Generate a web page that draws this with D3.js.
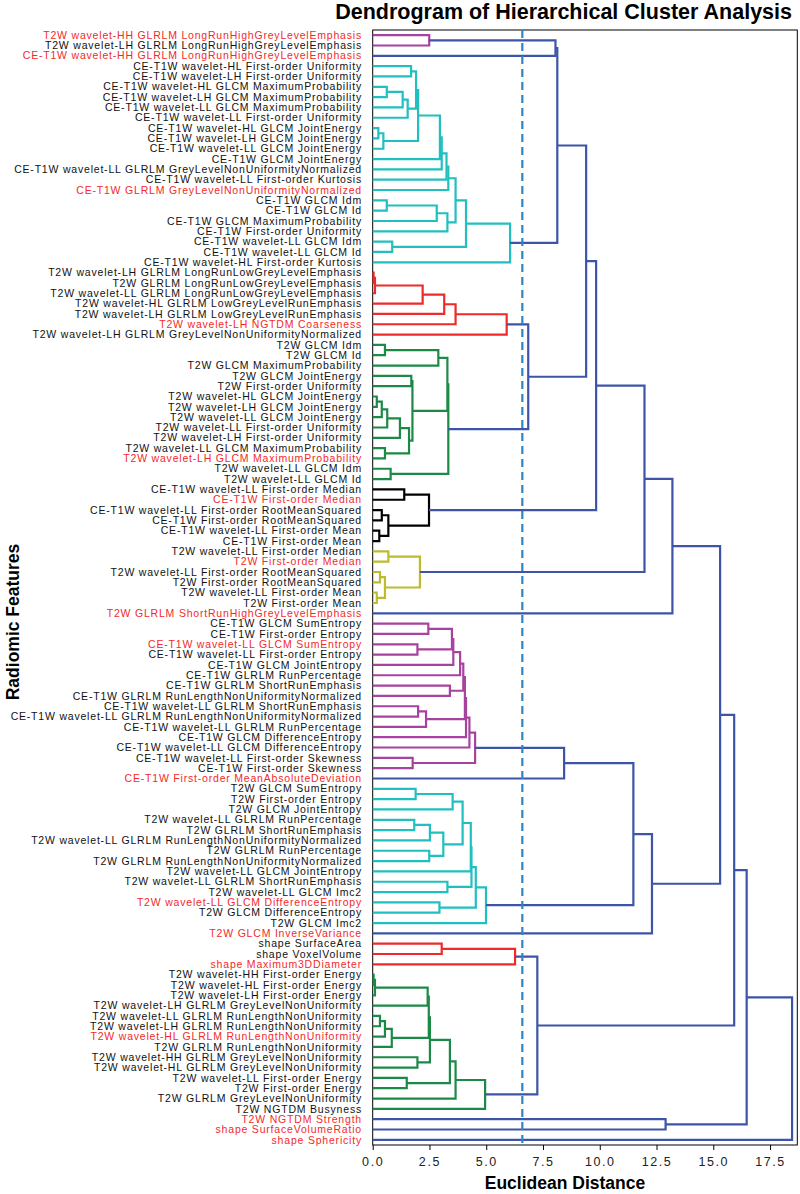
<!DOCTYPE html>
<html><head><meta charset="utf-8">
<script src="https://cdn.jsdelivr.net/npm/d3@7"></script>
<style>body{margin:0;background:#fff}svg{display:block}</style>
</head><body><svg id="chart" width="800" height="1194"></svg>
<script>
// ---------- DATA ----------
const leafLabels = [
"T2W wavelet-HH GLRLM LongRunHighGreyLevelEmphasis",
"T2W wavelet-LH GLRLM LongRunHighGreyLevelEmphasis",
"CE-T1W wavelet-HH GLRLM LongRunHighGreyLevelEmphasis",
"CE-T1W wavelet-HL First-order Uniformity",
"CE-T1W wavelet-LH First-order Uniformity",
"CE-T1W wavelet-HL GLCM MaximumProbability",
"CE-T1W wavelet-LH GLCM MaximumProbability",
"CE-T1W wavelet-LL GLCM MaximumProbability",
"CE-T1W wavelet-LL First-order Uniformity",
"CE-T1W wavelet-HL GLCM JointEnergy",
"CE-T1W wavelet-LH GLCM JointEnergy",
"CE-T1W wavelet-LL GLCM JointEnergy",
"CE-T1W GLCM JointEnergy",
"CE-T1W wavelet-LL GLRLM GreyLevelNonUniformityNormalized",
"CE-T1W wavelet-LL First-order Kurtosis",
"CE-T1W GLRLM GreyLevelNonUniformityNormalized",
"CE-T1W GLCM Idm",
"CE-T1W GLCM Id",
"CE-T1W GLCM MaximumProbability",
"CE-T1W First-order Uniformity",
"CE-T1W wavelet-LL GLCM Idm",
"CE-T1W wavelet-LL GLCM Id",
"CE-T1W wavelet-HL First-order Kurtosis",
"T2W wavelet-LH GLRLM LongRunLowGreyLevelEmphasis",
"T2W GLRLM LongRunLowGreyLevelEmphasis",
"T2W wavelet-LL GLRLM LongRunLowGreyLevelEmphasis",
"T2W wavelet-HL GLRLM LowGreyLevelRunEmphasis",
"T2W wavelet-LH GLRLM LowGreyLevelRunEmphasis",
"T2W wavelet-LH NGTDM Coarseness",
"T2W wavelet-LH GLRLM GreyLevelNonUniformityNormalized",
"T2W GLCM Idm",
"T2W GLCM Id",
"T2W GLCM MaximumProbability",
"T2W GLCM JointEnergy",
"T2W First-order Uniformity",
"T2W wavelet-HL GLCM JointEnergy",
"T2W wavelet-LH GLCM JointEnergy",
"T2W wavelet-LL GLCM JointEnergy",
"T2W wavelet-LL First-order Uniformity",
"T2W wavelet-LH First-order Uniformity",
"T2W wavelet-LL GLCM MaximumProbability",
"T2W wavelet-LH GLCM MaximumProbability",
"T2W wavelet-LL GLCM Idm",
"T2W wavelet-LL GLCM Id",
"CE-T1W wavelet-LL First-order Median",
"CE-T1W First-order Median",
"CE-T1W wavelet-LL First-order RootMeanSquared",
"CE-T1W First-order RootMeanSquared",
"CE-T1W wavelet-LL First-order Mean",
"CE-T1W First-order Mean",
"T2W wavelet-LL First-order Median",
"T2W First-order Median",
"T2W wavelet-LL First-order RootMeanSquared",
"T2W First-order RootMeanSquared",
"T2W wavelet-LL First-order Mean",
"T2W First-order Mean",
"T2W GLRLM ShortRunHighGreyLevelEmphasis",
"CE-T1W GLCM SumEntropy",
"CE-T1W First-order Entropy",
"CE-T1W wavelet-LL GLCM SumEntropy",
"CE-T1W wavelet-LL First-order Entropy",
"CE-T1W GLCM JointEntropy",
"CE-T1W GLRLM RunPercentage",
"CE-T1W GLRLM ShortRunEmphasis",
"CE-T1W GLRLM RunLengthNonUniformityNormalized",
"CE-T1W wavelet-LL GLRLM ShortRunEmphasis",
"CE-T1W wavelet-LL GLRLM RunLengthNonUniformityNormalized",
"CE-T1W wavelet-LL GLRLM RunPercentage",
"CE-T1W GLCM DifferenceEntropy",
"CE-T1W wavelet-LL GLCM DifferenceEntropy",
"CE-T1W wavelet-LL First-order Skewness",
"CE-T1W First-order Skewness",
"CE-T1W First-order MeanAbsoluteDeviation",
"T2W GLCM SumEntropy",
"T2W First-order Entropy",
"T2W GLCM JointEntropy",
"T2W wavelet-LL GLRLM RunPercentage",
"T2W GLRLM ShortRunEmphasis",
"T2W wavelet-LL GLRLM RunLengthNonUniformityNormalized",
"T2W GLRLM RunPercentage",
"T2W GLRLM RunLengthNonUniformityNormalized",
"T2W wavelet-LL GLCM JointEntropy",
"T2W wavelet-LL GLRLM ShortRunEmphasis",
"T2W wavelet-LL GLCM Imc2",
"T2W wavelet-LL GLCM DifferenceEntropy",
"T2W GLCM DifferenceEntropy",
"T2W GLCM Imc2",
"T2W GLCM InverseVariance",
"shape SurfaceArea",
"shape VoxelVolume",
"shape Maximum3DDiameter",
"T2W wavelet-HH First-order Energy",
"T2W wavelet-HL First-order Energy",
"T2W wavelet-LH First-order Energy",
"T2W wavelet-LH GLRLM GreyLevelNonUniformity",
"T2W wavelet-LL GLRLM RunLengthNonUniformity",
"T2W wavelet-LH GLRLM RunLengthNonUniformity",
"T2W wavelet-HL GLRLM RunLengthNonUniformity",
"T2W GLRLM RunLengthNonUniformity",
"T2W wavelet-HH GLRLM GreyLevelNonUniformity",
"T2W wavelet-HL GLRLM GreyLevelNonUniformity",
"T2W wavelet-LL First-order Energy",
"T2W First-order Energy",
"T2W GLRLM GreyLevelNonUniformity",
"T2W NGTDM Busyness",
"T2W NGTDM Strength",
"shape SurfaceVolumeRatio",
"shape Sphericity"
];
// leaves whose label is shown in red
const highlightedLeaves = [0,2,15,28,41,45,51,56,59,72,84,87,90,97,105,106,107];

// merges: [node name, child A, child B, Euclidean distance]; numbers = leaf index (top→bottom)
const merges = [
["a1",0,1,2.49],["a2","a1",2,8.05],
["c1",3,4,1.69],["c2",5,6,0.62],["c3","c2",7,1.32],["c4","c3",8,1.54],["c5","c1","c4",1.91],
["c6",9,10,0.25],["c7","c6",11,0.47],["c8","c5","c7",2.0],["c9","c8",12,2.96],["c10","c9",13,3.04],
["c11","c10",14,3.25],["c12","c11",15,3.33],["c13",16,17,0.62],["c14","c13",18,2.82],["c15","c14",19,3.29],
["c16","c12","c15",3.65],["c17",20,21,0.86],["c18","c16","c17",4.11],["c19","c18",22,6.05],
["a3","a2","c19",8.13],
["r1",23,24,0.04],["r2","r1",25,0.1],["r3","r2",26,2.2],["r4","r3",27,3.15],["r5","r4",28,3.65],["r6","r5",29,5.9],
["g1",30,31,0.54],["g2","g1",32,2.89],["g3",33,34,1.7],["g4",35,36,0.18],["g5","g4",37,0.4],["g6","g5",38,0.64],
["g7","g6",39,1.2],["g8",40,41,0.54],["g9","g7","g8",1.6],["g10","g3","g9",1.75],["g11","g2","g10",3.29],
["g12",42,43,0.79],["g13","g11","g12",3.33],
["a4","r6","g13",6.85],["a5","a3","a4",9.4],
["k1",44,45,1.39],["k2",46,47,0.4],["k3",48,49,0.29],["k4","k2","k3",0.69],["k5","k1","k4",2.48],
["a6","a5","k5",9.84],
["y1",50,51,0.69],["y2",52,53,0.32],["y3",54,55,0.18],["y4","y2","y3",0.54],["y5","y1","y4",2.08],
["a7","a6","y5",11.97],["a8","a7",56,13.2],
["m1",57,58,2.45],["m2",59,60,1.97],["m3","m1","m2",3.49],["m4","m3",61,3.55],["m5","m4",62,3.85],
["m6",63,64,3.4],["m7","m5","m6",3.99],["m8",65,66,2.0],["m9","m8",67,2.35],["m10","m7","m9",4.06],
["m11","m10",68,4.11],["m12","m11",69,4.26],["m13",70,71,1.76],["m14","m12","m13",4.51],
["b1","m14",72,8.43],
["d1",73,74,1.89],["d2","d1",75,3.52],["d3",76,77,1.83],["d4","d3",78,2.52],["d5",79,80,2.49],
["d6","d4","d5",3.11],["d7","d2","d6",3.96],["d8","d7",81,4.32],["d9",82,83,3.29],["d10","d8","d9",4.35],
["d11",84,85,2.94],["d12","d10","d11",4.54],["d13","d12",86,4.99],
["b2","b1","d13",11.48],["b3","b2",87,12.3],["b4","a8","b3",15.3],
["s1",88,89,3.04],["s2","s1",90,6.27],
["e1",91,92,0.04],["e2","e1",93,0.1],["e3","e2",94,2.42],["e4",95,96,0.32],["e5","e4",97,0.54],
["e6","e5",98,0.84],["e7","e3","e6",2.47],["e8",99,100,1.97],["e9","e7","e8",2.52],["e10",101,102,1.5],
["e11","e9","e10",3.4],["e12","e11",103,3.65],["e13","e12",104,4.95],
["b5","s2","e13",7.25],["b6","b4","b5",15.92],["b7",105,106,12.9],["b8","b6","b7",16.47],
["root","b8",107,18.47]
];
const colorThreshold = 6.59;
const xTicks = [0,2.5,5,7.5,10,12.5,15,17.5];
const xMax = 18.7;
// cluster colours, assigned to clusters from the bottom of the chart upward
const clusterPalette = ["#1c8a47","#ee2a2a","#21bfc0","#a8429f","#bcbc2e","#000000"];
const aboveColor = "#3d55a8";
const cutLineColor = "#2e86c6";
const labelRed = "#f22a2a";

// ---------- LAYOUT ----------
const svg = d3.select("#chart");
const M = {left:372.7, right:797.3, top:30, bottom:1145};
const x = d3.scaleLinear().domain([0,xMax]).range([M.left,M.right]);
const y = d3.scaleLinear().domain([-0.5, leafLabels.length-0.5]).range([M.top,M.bottom]);

const nodes = {};
leafLabels.forEach((l,i)=>{ nodes[i] = {id:i, h:0, pos:i, leaf:true}; });
merges.forEach(([n,a,b,h])=>{
  const A = nodes[a], B = nodes[b];
  nodes[n] = {id:n, h, a:A, b:B, pos:(A.pos+B.pos)/2};
  A.parent = nodes[n]; B.parent = nodes[n];
});
const mergeNodes = merges.map(m=>nodes[m[0]]);
const clusterRoots = mergeNodes.filter(n=>n.h < colorThreshold && n.parent && n.parent.h >= colorThreshold)
  .sort((p,q)=>q.pos-p.pos);
clusterRoots.forEach((r,i)=>{
  const c = clusterPalette[i % clusterPalette.length];
  (function paint(n){ if(!n.leaf){ n.color=c; paint(n.a); paint(n.b);} })(r);
});
mergeNodes.forEach(n=>{ if(!n.color) n.color = aboveColor; });

// frame
svg.append("rect").attr("x",M.left).attr("y",M.top).attr("width",M.right-M.left).attr("height",M.bottom-M.top)
  .attr("fill","none").attr("stroke","#000").attr("stroke-width",1);

// links
svg.append("g").selectAll("path").data(mergeNodes).join("path")
  .attr("fill","none").attr("stroke",d=>d.color).attr("stroke-width",2.2).attr("stroke-linejoin","miter")
  .attr("d",d=>`M${x(d.a.h)},${y(d.a.pos)}H${x(d.h)}V${y(d.b.pos)}H${x(d.b.h)}`);

// cut line
svg.append("line").attr("x1",x(colorThreshold)).attr("x2",x(colorThreshold))
  .attr("y1",M.top).attr("y2",M.bottom).attr("stroke",cutLineColor).attr("stroke-width",2.2)
  .attr("stroke-dasharray","8,5");

// x axis
const xAxis = d3.axisBottom(x).tickValues(xTicks).tickFormat(d3.format(".1f")).tickSize(5);
const gx = svg.append("g").attr("transform",`translate(0,${M.bottom})`).call(xAxis);
gx.select(".domain").remove();
gx.selectAll("text").attr("font-family","Liberation Sans, Arial, sans-serif").attr("font-size",12.5)
  .attr("letter-spacing","1.6px").attr("fill","#222").attr("dy","1.05em");

// leaf labels
const highlightSet = new Set(highlightedLeaves);
svg.append("g").selectAll("text").data(leafLabels).join("text")
  .attr("x",362).attr("y",(d,i)=>y(i)).attr("dy","0.35em").attr("text-anchor","end")
  .attr("font-family","Liberation Sans, Arial, sans-serif").attr("font-size",10.5)
  .attr("letter-spacing","0.8px")
  .attr("fill",(d,i)=>highlightSet.has(i)?labelRed:"#111").text(d=>d);

// titles
svg.append("text").attr("x",792).attr("y",19).attr("text-anchor","end")
  .attr("font-family","Liberation Sans, Arial, sans-serif").attr("font-weight","bold").attr("font-size",21.5)
  .text("Dendrogram of Hierarchical Cluster Analysis");
svg.append("text").attr("x",565).attr("y",1189).attr("text-anchor","middle")
  .attr("font-family","Liberation Sans, Arial, sans-serif").attr("font-weight","bold").attr("font-size",17.5)
  .text("Euclidean Distance");
svg.append("text").attr("transform","translate(19,622) rotate(-90)").attr("text-anchor","middle")
  .attr("font-family","Liberation Sans, Arial, sans-serif").attr("font-weight","bold").attr("font-size",17.5)
  .text("Radiomic Features");
</script></body></html>
